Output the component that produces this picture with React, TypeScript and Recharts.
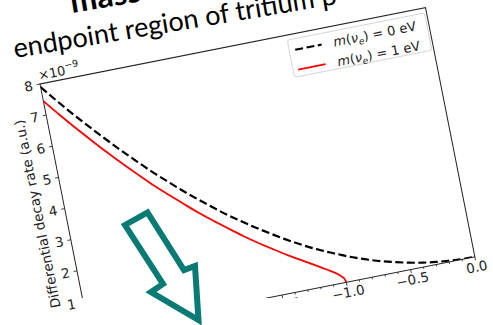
import { LineChart, Line, XAxis, YAxis, ReferenceArea } from "recharts";

// electron energy relative to the endpoint E - E0 (eV)
const energy = [
  -3.0, -2.9, -2.8, -2.7, -2.6, -2.5, -2.4, -2.3, -2.2, -2.1, -2.0, -1.9, -1.8, -1.7, -1.6,
  -1.5, -1.4, -1.3, -1.2, -1.15, -1.1, -1.05, -1.02, -1.01, -1.0, -0.9, -0.8, -0.7, -0.6,
  -0.5, -0.4, -0.3, -0.2, -0.1, 0.0,
];
// m(nu_e) = 0 eV, units of 1e-9
const rateMassless = [
  7.9, 7.38, 6.88, 6.4, 5.94, 5.49, 5.06, 4.64, 4.25, 3.87, 3.51, 3.17, 2.84, 2.54, 2.25,
  1.98, 1.72, 1.48, 1.26, 1.16, 1.06, 0.97, 0.91, 0.9, 0.88, 0.71, 0.56, 0.43, 0.32,
  0.22, 0.14, 0.08, 0.04, 0.01, 0.0,
];
// m(nu_e) = 1 eV, units of 1e-9
const rateMassive = [
  7.45, 6.93, 6.43, 5.95, 5.48, 5.03, 4.6, 4.18, 3.79, 3.41, 3.04, 2.7, 2.37, 2.05, 1.75,
  1.47, 1.2, 0.95, 0.7, 0.57, 0.44, 0.3, 0.18, 0.13, 0.0, null, null, null, null,
  null, null, null, null, null, null,
];

const xTicks = [
  -3.0, -2.9, -2.8, -2.7, -2.6, -2.5, -2.4, -2.3, -2.2, -2.1, -2.0, -1.9, -1.8, -1.7, -1.6,
  -1.5, -1.4, -1.3, -1.2, -1.1, -1.0, -0.9, -0.8, -0.7, -0.6, -0.5, -0.4, -0.3, -0.2, -0.1, 0.0,
];
const yTicks = [0, 1, 2, 3, 4, 5, 6, 7, 8];

const data = energy.map((e, i) => ({ e, m0: rateMassless[i], m1: rateMassive[i] }));

const FONT = "DejaVu Sans";
const TICK = "#222";

function XTick({ x, y, payload }: any) {
  const v = payload.value as number;
  const major = Math.round(Math.abs(v) * 10) % 5 === 0;
  const label = v.toFixed(1).replace("-", "\u2212");
  return (
    <g>
      <line x1={x} x2={x} y1={y} y2={y + (major ? 3.5 : 2)} stroke={TICK} strokeWidth={0.8} />
      {major && (
        <text x={x} y={y + 15} textAnchor="middle" fontSize={13.5} fontFamily={FONT} fill={TICK}>
          {label === "\u22120.0" ? "0.0" : label}
        </text>
      )}
    </g>
  );
}

function YTick({ x, y, payload }: any) {
  return (
    <g>
      <line x1={x - 3.5} x2={x} y1={y} y2={y} stroke={TICK} strokeWidth={0.8} />
      <text x={x - 7.5} y={y} dy="0.36em" textAnchor="end" fontSize={13.5} fontFamily={FONT} fill={TICK}>
        {payload.value}
      </text>
    </g>
  );
}

export default function App() {
  const W = 483;
  const H = 324;
  return (
    <div style={{ position: "absolute", left: 0, top: 0, width: 493, height: 325, overflow: "hidden", background: "#fff" }}>
      <div
        style={{
          position: "absolute",
          left: -30,
          top: 54,
          width: W,
          height: H,
          transform: "rotate(-11.2deg)",
          transformOrigin: "70px 30px",
        }}
      >
        <LineChart width={W} height={H} data={data} margin={{ top: 30, right: 20, left: 30, bottom: 10 }}>
          <XAxis
            dataKey="e"
            type="number"
            domain={[-3, 0]}
            ticks={xTicks}
            interval={0}
            tick={<XTick />}
            tickSize={0}
            tickMargin={0}
            tickLine={false}
            axisLine={false}
            height={30}
            allowDataOverflow
          />
          <YAxis
            type="number"
            domain={[0, 8]}
            ticks={yTicks}
            interval={0}
            tick={<YTick />}
            tickSize={0}
            tickMargin={0}
            tickLine={false}
            axisLine={false}
            width={40}
            allowDataOverflow
          />
          <ReferenceArea x1={-3} x2={0} y1={0} y2={8} fill="none" stroke="#222" strokeWidth={1} />
          <Line
            dataKey="m0"
            type="monotone"
            stroke="#000"
            strokeWidth={2.2}
            strokeDasharray="8 3.5"
            dot={false}
            isAnimationActive={false}
          />
          <Line
            dataKey="m1"
            type="monotone"
            stroke="#ff0000"
            strokeWidth={1.8}
            dot={false}
            connectNulls={false}
            isAnimationActive={false}
          />
        </LineChart>
        <svg
          width={W}
          height={H}
          style={{ position: "absolute", left: 0, top: 0, pointerEvents: "none", overflow: "visible" }}
          fontFamily={FONT}
        >
          <text x={70} y={26} fontSize={13} fill={TICK}>
            ×10<tspan fontSize={9.5} dy={-6}>−9</tspan>
          </text>
          <text
            x={42}
            y={157}
            fontSize={13.5}
            fill={TICK}
            textAnchor="middle"
            dominantBaseline="central"
            transform="rotate(-90 42 157)"
          >
            Differential decay rate (a.u.)
          </text>
          <rect x={321} y={35} width={140} height={38} rx={3} fill="#fff" fillOpacity={0.85} stroke="#d6d6d6" />
          <line x1={327} x2={354} y1={46} y2={46} stroke="#000" strokeWidth={2.2} strokeDasharray="8 3.5" />
          <line x1={326} x2={354} y1={66} y2={66} stroke="#ff0000" strokeWidth={1.8} />
          <text x={366} y={50.5} fontSize={13} fill={TICK}>
            <tspan fontStyle="italic">m</tspan>(<tspan fontStyle="italic">ν</tspan>
            <tspan fontStyle="italic" fontSize={9} dy={3}>e</tspan>
            <tspan dy={-3}>) = 0 eV</tspan>
          </text>
          <text x={366} y={70.5} fontSize={13} fill={TICK}>
            <tspan fontStyle="italic">m</tspan>(<tspan fontStyle="italic">ν</tspan>
            <tspan fontStyle="italic" fontSize={9} dy={3}>e</tspan>
            <tspan dy={-3}>) = 1 eV</tspan>
          </text>
        </svg>
      </div>
      <svg width={493} height={325} style={{ position: "absolute", left: 0, top: 0, pointerEvents: "none" }}>
        <rect x={78} y={298} width={415} height={27} fill="#fff" />
        <polygon
          points="125,225 147.5,212.5 184,270 195,266 198.5,320 151,292 163,284"
          fill="#fff"
          stroke="#097a74"
          strokeWidth={6}
          strokeLinejoin="miter"
        />
        <text x={15} y={58} fontFamily="Lato" fontSize={27} fill="#000" transform="rotate(-9.5 15 58)">
          endpoint region of tritium β
        </text>
        <text x={72} y={13} fontFamily="Lato" fontWeight="bold" fontSize={32} fill="#000" transform="rotate(-9.5 72 13)">
          mass
        </text>
      </svg>
    </div>
  );
}
